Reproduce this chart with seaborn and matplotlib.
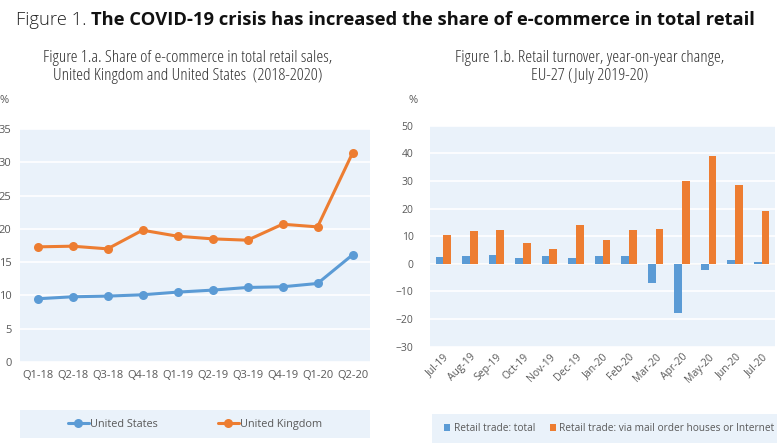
import matplotlib
matplotlib.use("Agg")
import matplotlib.pyplot as plt
from matplotlib.patches import Rectangle
import seaborn as sns
import pandas as pd

quarters = ['Q1-18', 'Q2-18', 'Q3-18', 'Q4-18', 'Q1-19', 'Q2-19', 'Q3-19', 'Q4-19', 'Q1-20', 'Q2-20']
us_share = [9.5, 9.8, 9.9, 10.1, 10.5, 10.8, 11.2, 11.3, 11.8, 16.1]
uk_share = [17.3, 17.4, 17.0, 19.8, 18.9, 18.5, 18.3, 20.7, 20.3, 31.4]

months = ['Jul-19', 'Aug-19', 'Sep-19', 'Oct-19', 'Nov-19', 'Dec-19', 'Jan-20',
          'Feb-20', 'Mar-20', 'Apr-20', 'May-20', 'Jun-20', 'Jul-20']
retail_total = [2.6, 3.0, 3.1, 2.2, 2.7, 2.2, 2.7, 3.0, -6.8, -17.7, -2.3, 1.4, 0.8]
retail_internet = [10.4, 11.9, 12.4, 7.5, 5.5, 13.9, 8.8, 12.1, 12.6, 30.1, 39.0, 28.7, 19.1]

BLUE = '#5B9BD5'
ORANGE = '#ED7D31'
BG = '#EAF2FA'
GREY = '#595959'

sns.set_theme(style='white')
plt.rcParams['font.family'] = ['Open Sans', 'DejaVu Sans']

fig = plt.figure(figsize=(7.82, 4.46), dpi=100)

# title: light prefix + bold rest
t1 = fig.text(0.02, 0.955, 'Figure 1. ', fontsize=13.2, fontweight='light', color='#222222', va='center')
fig.canvas.draw()
bb = t1.get_window_extent()
fig.text(bb.x1 / fig.bbox.width, 0.955,
         'The COVID-19 crisis has increased the share of e-commerce in total retail',
         fontsize=13.2, fontweight='bold', color='#111111', va='center')

sub_kw = dict(ha='center', va='center', fontsize=12.5, color='#333333',
              linespacing=1.1, fontstretch='condensed')
fig.text(188 / 782, 1 - 67 / 446,
         'Figure 1.a. Share of e-commerce in total retail sales,\nUnited Kingdom and United States  (2018-2020)', **sub_kw)
fig.text(590 / 782, 1 - 67 / 446,
         'Figure 1.b. Retail turnover, year-on-year change,\nEU-27 (July 2019-20)', **sub_kw)

# ---- left: line chart
ax1 = fig.add_axes([0.0256, 0.1883, 0.4476, 0.5224])
lines = pd.DataFrame({
    'quarter': quarters * 2,
    'value': us_share + uk_share,
    'country': ['United States'] * len(quarters) + ['United Kingdom'] * len(quarters),
})
sns.lineplot(data=lines, x='quarter', y='value', hue='country', marker='o',
             palette=[BLUE, ORANGE], linewidth=2.2, markersize=6.5, markeredgewidth=0,
             sort=False, ax=ax1)
ax1.set_facecolor(BG)
ax1.set_ylim(0, 35)
ax1.set_yticks(range(0, 36, 5))
ax1.set_xlim(-0.5, len(quarters) - 0.5)
ax1.grid(axis='y', color='white', linewidth=1.2)
ax1.set_axisbelow(True)
for s in ax1.spines.values():
    s.set_visible(False)
ax1.set_xlabel('')
ax1.set_ylabel('')
ax1.tick_params(axis='both', colors=GREY, labelsize=8, length=0, pad=6)
ax1.text(-0.045, 1.11, '%', transform=ax1.transAxes, fontsize=8, color=GREY, ha='center')
ax1.add_patch(Rectangle((0, -0.326), 1, 0.118, transform=ax1.transAxes,
                        facecolor=BG, edgecolor='none', clip_on=False))
h, l = ax1.get_legend_handles_labels()
ax1.legend(h, l, loc='center', bbox_to_anchor=(0.5, -0.267), ncol=2, frameon=False,
           fontsize=7.8, labelcolor=GREY, columnspacing=5.5, handlelength=2.0, handletextpad=0.1)

# ---- right: bar chart
ax2 = fig.add_axes([0.550, 0.2226, 0.441, 0.4955])
bars = pd.DataFrame({
    'month': months * 2,
    'value': retail_total + retail_internet,
    'series': ['Retail trade: total'] * len(months) + ['Retail trade: via mail order houses or Internet'] * len(months),
})
sns.barplot(data=bars, x='month', y='value', hue='series', palette=[BLUE, ORANGE],
            width=0.58, gap=0, saturation=1, linewidth=0, ax=ax2)
ax2.set_facecolor(BG)
ax2.set_ylim(-30, 50)
ax2.set_yticks(range(-30, 51, 10))
ax2.set_xlim(-0.5, len(months) - 0.5)
ax2.grid(axis='y', color='white', linewidth=1.2)
ax2.axhline(0, color='#D9D9D9', linewidth=0.8, zorder=0.5)
ax2.set_axisbelow(True)
for s in ax2.spines.values():
    s.set_visible(False)
ax2.set_xlabel('')
ax2.set_ylabel('')
ax2.tick_params(axis='both', colors=GREY, labelsize=7.5, length=0)
ax2.tick_params(axis='y', pad=12)
plt.setp(ax2.get_xticklabels(), rotation=45, ha='right', rotation_mode='anchor')
ax2.text(-0.05, 1.105, '%', transform=ax2.transAxes, fontsize=8, color=GREY, ha='center')
ax2.add_patch(Rectangle((0.006, -0.435), 1.0, 0.13, transform=ax2.transAxes,
                        facecolor=BG, edgecolor='none', clip_on=False))
h, l = ax2.get_legend_handles_labels()
ax2.legend(h, l, loc='center', bbox_to_anchor=(0.52, -0.37), ncol=2, frameon=False,
           fontsize=7.3, labelcolor=GREY, columnspacing=1.5, handlelength=0.6, handleheight=0.6,
           handletextpad=0.3)

fig.savefig('out.png', dpi=100)
